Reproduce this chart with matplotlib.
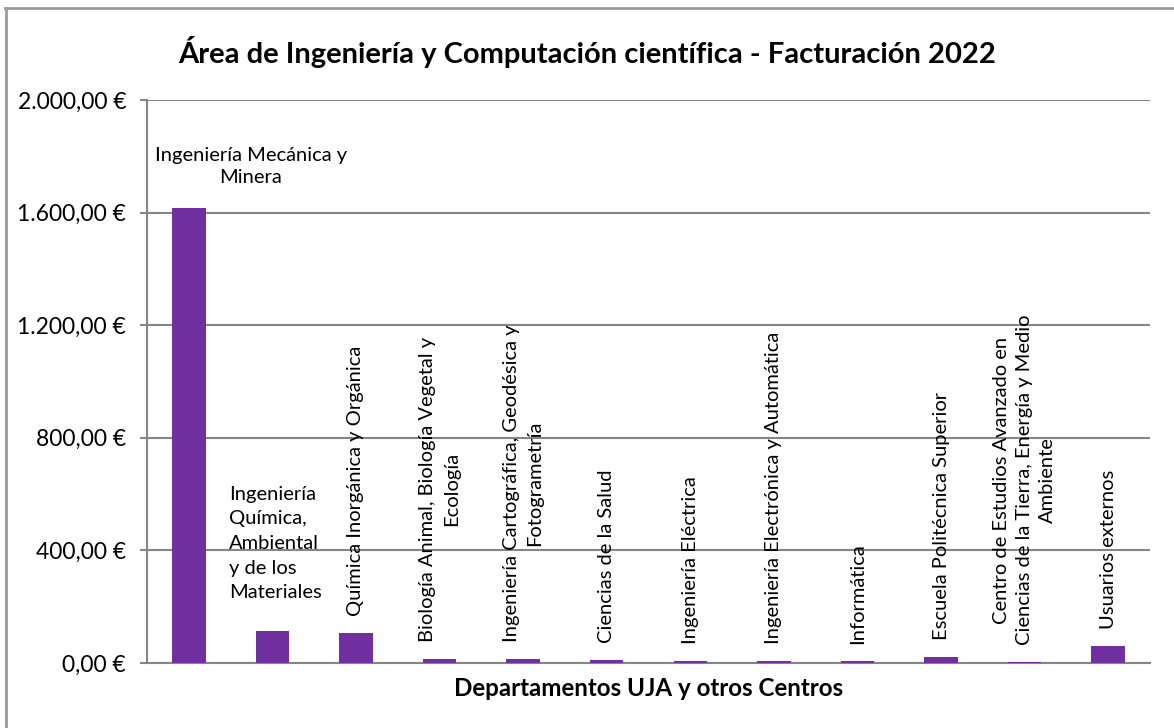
import matplotlib
matplotlib.use("Agg")
import matplotlib.pyplot as plt
from matplotlib.lines import Line2D
from matplotlib.ticker import FuncFormatter

plt.rcParams['font.family'] = ['Lato', 'DejaVu Sans']

# data
departamentos = [
    "Ingeniería Mecánica y\nMinera",
    "Ingeniería\nQuímica,\nAmbiental\ny de los\nMateriales",
    "Química Inorgánica y Orgánica",
    "Biología Animal, Biología Vegetal y\nEcología",
    "Ingeniería Cartográfica, Geodésica y\nFotogrametría",
    "Ciencias de la Salud",
    "Ingeniería Eléctrica",
    "Ingeniería Electrónica y Automática",
    "Informática",
    "Escuela Politécnica Superior",
    "Centro de Estudios Avanzado en\nCiencias de la Tierra, Energía y Medio\nAmbiente",
    "Usuarios externos",
]
facturacion = [1615, 112, 108, 15, 13, 9, 7, 6, 6, 20, 2, 60]
y_ticks = [0, 400, 800, 1200, 1600, 2000]

titulo = "Área de Ingeniería y Computación científica - Facturación 2022"
eje_x = "Departamentos UJA y otros Centros"

GRIS = "#868686"
MORADO = "#7030A0"


def euros(v, pos=None):
    entero = f"{int(round(v)):,}".replace(",", ".")
    return f"{entero},00 €"


fig = plt.figure(figsize=(11.74, 7.28), dpi=100)
ax = fig.add_axes([147 / 1174, 1 - 663 / 728, (1150 - 147) / 1174, (663 - 100) / 728])

x = list(range(len(departamentos)))
ax.bar(x, facturacion, width=0.4, color=MORADO, zorder=3)

ax.set_xlim(-0.5, len(departamentos) - 0.5)
ax.set_ylim(y_ticks[0], y_ticks[-1])
ax.set_yticks(y_ticks)
ax.yaxis.set_major_formatter(FuncFormatter(euros))
ax.set_xticks([])
ax.grid(axis='y', color=GRIS, linewidth=1.5, zorder=0)
ax.tick_params(axis='y', length=5, width=1.5, color=GRIS, labelsize=16.5, pad=10)

for s in ['top', 'right']:
    ax.spines[s].set_visible(False)
for s in ['left', 'bottom']:
    ax.spines[s].set_color(GRIS)
    ax.spines[s].set_linewidth(1.5)

# category labels as data labels
fs = 14.5
for i, (lab, v) in enumerate(zip(departamentos, facturacion)):
    if i == 0:
        ax.annotate(lab, (i, v), xytext=(62, 22), textcoords='offset pixels',
                    ha='center', va='bottom', multialignment='center',
                    fontsize=fs, linespacing=1.4)
    elif i == 1:
        ax.annotate(lab, (i, v), xytext=(3, 30), textcoords='offset pixels',
                    ha='center', va='bottom', multialignment='left',
                    fontsize=fs, linespacing=1.55)
    else:
        ax.annotate(lab, (i, v), xytext=(0, 17), textcoords='offset pixels',
                    ha='center', va='bottom', multialignment='center',
                    rotation=90, fontsize=fs, linespacing=1.45)

fig.text(0.5, 1 - 52 / 728, titulo, ha='center', va='center',
         fontsize=21, fontweight='bold')
fig.text((147 + 1150) / 2 / 1174, 1 - 688 / 728, eje_x, ha='center', va='center',
         fontsize=17.4, fontweight='bold')

# chart frame (top and left edges visible)
fig.add_artist(Line2D([5 / 1174, 1], [1 - 7.5 / 728] * 2, color="#9a9a9a", linewidth=2))
fig.add_artist(Line2D([5.5 / 1174] * 2, [0, 1 - 7.5 / 728], color="#9a9a9a", linewidth=2))

fig.savefig("out.png", dpi=100, facecolor='white')
